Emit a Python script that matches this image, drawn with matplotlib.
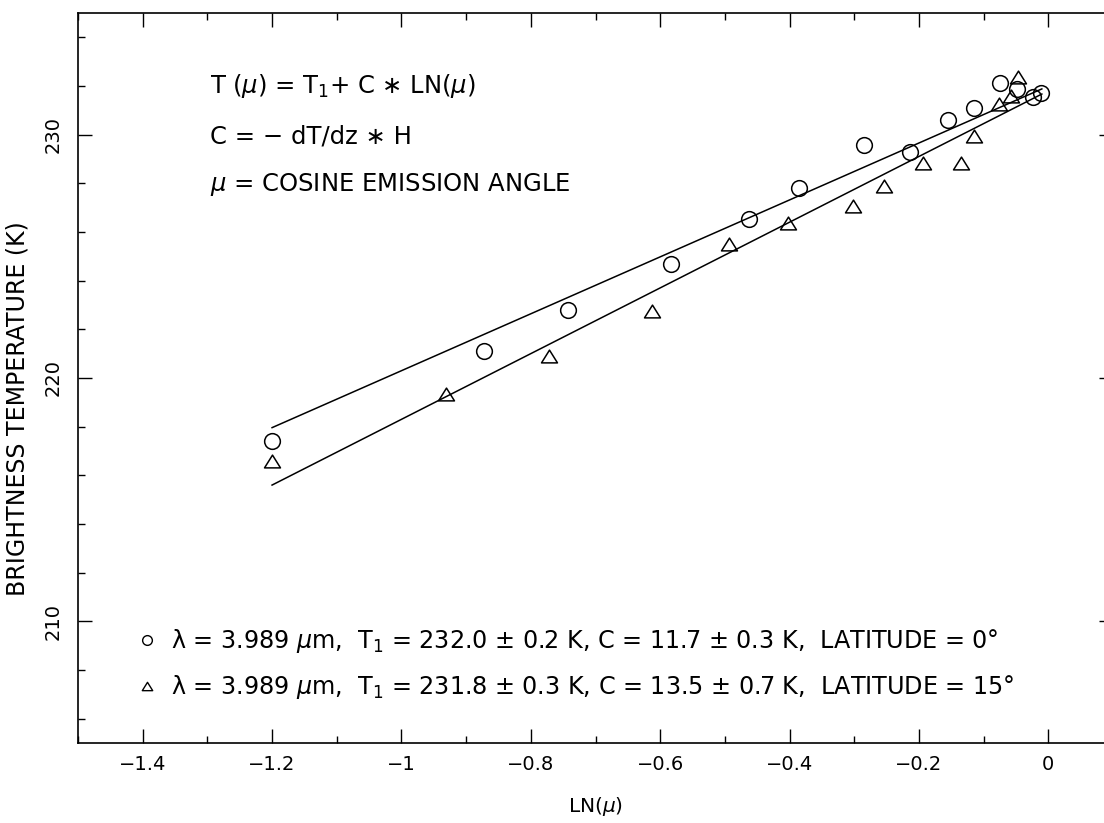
import numpy as np
import matplotlib.pyplot as plt
from matplotlib.lines import Line2D
from matplotlib.path import Path

plt.rcParams['font.family'] = ['DejaVu Sans']
plt.rcParams['mathtext.fontset'] = 'dejavusans'

# latitude 0 (circles)
lnmu_0 = [-1.200, -0.872, -0.742, -0.584, -0.463, -0.385, -0.285, -0.214,
          -0.155, -0.115, -0.075, -0.049, -0.024, -0.011]
tb_0 = [217.42, 221.09, 222.78, 224.68, 226.54, 227.81, 229.59, 229.30,
        230.62, 231.11, 232.14, 231.86, 231.53, 231.73]

# latitude 15 (triangles)
lnmu_15 = [-1.200, -0.931, -0.772, -0.612, -0.493, -0.403, -0.302, -0.254,
           -0.194, -0.135, -0.115, -0.076, -0.058, -0.047]
tb_15 = [216.60, 219.36, 220.89, 222.74, 225.51, 226.37, 227.07, 227.88,
         228.85, 228.85, 229.96, 231.24, 231.57, 232.39]

# fitted lines, end points
fit_x = [-1.2, -0.01]
fit_0 = [217.96, 231.88]
fit_15 = [215.60, 231.67]

label_0 = ('λ = 3.989 $\\mu$m,  T$_1$ = 232.0 ± 0.2 K, '
           'C = 11.7 ± 0.3 K,  LATITUDE = 0°')
label_15 = ('λ = 3.989 $\\mu$m,  T$_1$ = 231.8 ± 0.3 K, '
            'C = 13.5 ± 0.7 K,  LATITUDE = 15°')

# wide flat triangle like the original
tri = Path([(-1, -0.8), (1, -0.8), (0, 0.8), (-1, -0.8)],
           [Path.MOVETO, Path.LINETO, Path.LINETO, Path.CLOSEPOLY])

fig = plt.figure(figsize=(11.04, 8.23), dpi=100)
ax = fig.add_axes([78/1104, 1-743/823, (1113-78)/1104, (743-13)/823])

ax.plot(fit_x, fit_0, color='k', lw=1.1)
ax.plot(fit_x, fit_15, color='k', lw=1.1)
ax.plot(lnmu_0, tb_0, ls='none', marker='o', ms=11.3, mfc='none',
        mec='k', mew=1.1)
ax.plot(lnmu_15, tb_15, ls='none', marker=tri, ms=11.5, mfc='none',
        mec='k', mew=1.1)

ax.set_xlim(-1.5, 0.1)
ax.set_ylim(205, 235)
ax.set_xticks(np.arange(-1.4, 0.01, 0.2))
ax.set_xticks(np.arange(-1.5, 0.11, 0.1), minor=True)
ax.set_xticklabels(['\u22121.4', '\u22121.2', '\u22121', '\u22120.8',
                    '\u22120.6', '\u22120.4', '\u22120.2', '0'])
ax.set_yticks([210, 220, 230])
ax.set_yticks(np.arange(206, 235, 2), minor=True)
ax.tick_params(which='both', direction='in', top=True, right=True,
               width=1.0, labelsize=14)
ax.tick_params(which='major', length=10)
ax.tick_params(which='minor', length=5)
ax.tick_params(axis='x', pad=9)
ax.tick_params(axis='y', pad=11)
for t in ax.get_yticklabels():
    t.set_rotation(90)
    t.set_va('center')
for s in ax.spines.values():
    s.set_linewidth(1.2)

ax.set_xlabel(r'LN($\mu$)', fontsize=14.5, labelpad=15)
fig.text(18/1104, 1-409/823, 'BRIGHTNESS TEMPERATURE (K)', rotation=90,
         ha='center', va='center', fontsize=17)

ax.text(0.128, 0.8904, 'T ($\\mu$) = T$_1$+ C \u2217 LN($\\mu$)',
        transform=ax.transAxes, fontsize=17.5)
ax.text(0.128, 0.8219, 'C = \u2212 dT/dz \u2217 H',
        transform=ax.transAxes, fontsize=17.5)
ax.text(0.128, 0.7562, '$\\mu$ = COSINE EMISSION ANGLE',
        transform=ax.transAxes, fontsize=17.5)

handles = [Line2D([], [], ls='none', marker='o', ms=7, mfc='none',
                  mec='k', mew=1.0),
           Line2D([], [], ls='none', marker=tri, ms=7.5, mfc='none',
                  mec='k', mew=1.0)]
ax.legend(handles, [label_0, label_15], loc='center left',
          bbox_to_anchor=(0.06, 0.108), frameon=False, fontsize=17.2,
          handlelength=0.6, handletextpad=0.7, labelspacing=0.76,
          borderpad=0, borderaxespad=0)

fig.savefig('out.png', dpi=100, facecolor='white')
